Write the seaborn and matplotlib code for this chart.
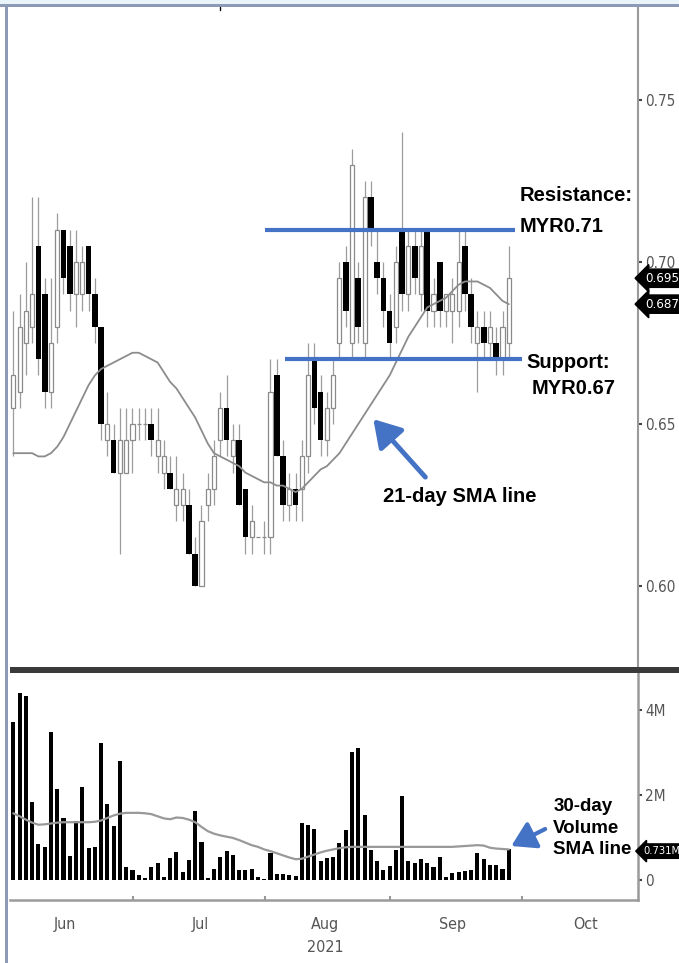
import numpy as np
import pandas as pd
import matplotlib
matplotlib.use('Agg')
import matplotlib.pyplot as plt
import seaborn as sns
from matplotlib.patches import Rectangle
from matplotlib.lines import Line2D

# ---- data ----
opens = [0.655, 0.66, 0.675, 0.68, 0.705, 0.69, 0.66, 0.68, 0.71, 0.705,
         0.69, 0.69, 0.705, 0.69, 0.68, 0.645, 0.645, 0.635, 0.635, 0.645,
         0.65, 0.65, 0.65, 0.64, 0.635, 0.635, 0.625, 0.625, 0.625, 0.61,
         0.60, 0.625, 0.63, 0.645, 0.655, 0.64, 0.645, 0.63, 0.615, 0.615,
         0.615, 0.615, 0.665, 0.64, 0.625, 0.63, 0.63, 0.64, 0.67, 0.66,
         0.645, 0.655, 0.675, 0.70, 0.675, 0.695, 0.675, 0.72, 0.70, 0.695,
         0.685, 0.68, 0.71, 0.69, 0.705, 0.69, 0.71, 0.685, 0.70, 0.685,
         0.685, 0.685, 0.705, 0.69, 0.675, 0.68, 0.675, 0.675, 0.67, 0.675]
highs = [0.685, 0.69, 0.70, 0.72, 0.72, 0.695, 0.695, 0.715, 0.71, 0.71,
         0.71, 0.705, 0.705, 0.695, 0.68, 0.66, 0.65, 0.655, 0.655, 0.655,
         0.655, 0.655, 0.655, 0.655, 0.645, 0.64, 0.64, 0.635, 0.63, 0.615,
         0.625, 0.635, 0.645, 0.66, 0.665, 0.65, 0.65, 0.63, 0.625, 0.615,
         0.62, 0.67, 0.67, 0.645, 0.635, 0.635, 0.645, 0.675, 0.675, 0.665,
         0.66, 0.67, 0.70, 0.705, 0.735, 0.70, 0.725, 0.725, 0.71, 0.70,
         0.69, 0.705, 0.74, 0.71, 0.71, 0.71, 0.71, 0.695, 0.70, 0.69,
         0.695, 0.71, 0.71, 0.695, 0.685, 0.685, 0.685, 0.68, 0.685, 0.705]
lows = [0.64, 0.655, 0.665, 0.675, 0.665, 0.655, 0.655, 0.675, 0.69, 0.685,
        0.68, 0.685, 0.685, 0.675, 0.645, 0.64, 0.635, 0.61, 0.635, 0.635,
        0.645, 0.645, 0.64, 0.635, 0.63, 0.63, 0.62, 0.62, 0.61, 0.60,
        0.60, 0.62, 0.625, 0.64, 0.64, 0.635, 0.625, 0.61, 0.61, 0.615,
        0.61, 0.61, 0.64, 0.62, 0.62, 0.62, 0.62, 0.635, 0.65, 0.64,
        0.64, 0.65, 0.67, 0.68, 0.67, 0.675, 0.67, 0.705, 0.69, 0.68,
        0.67, 0.675, 0.685, 0.685, 0.69, 0.685, 0.68, 0.68, 0.68, 0.68,
        0.675, 0.68, 0.685, 0.675, 0.66, 0.67, 0.67, 0.665, 0.665, 0.67]
closes = [0.665, 0.68, 0.685, 0.69, 0.67, 0.66, 0.675, 0.71, 0.695, 0.69,
          0.70, 0.70, 0.69, 0.68, 0.65, 0.65, 0.635, 0.645, 0.645, 0.65,
          0.65, 0.65, 0.645, 0.645, 0.64, 0.63, 0.63, 0.63, 0.61, 0.60,
          0.62, 0.63, 0.64, 0.655, 0.645, 0.645, 0.625, 0.615, 0.62, 0.615,
          0.615, 0.66, 0.64, 0.625, 0.63, 0.625, 0.64, 0.665, 0.655, 0.645,
          0.655, 0.665, 0.695, 0.685, 0.73, 0.68, 0.72, 0.71, 0.695, 0.685,
          0.675, 0.70, 0.69, 0.705, 0.695, 0.705, 0.685, 0.69, 0.685, 0.69,
          0.69, 0.70, 0.69, 0.68, 0.68, 0.675, 0.68, 0.67, 0.68, 0.695]
sma21 = [0.641, 0.641, 0.641, 0.641, 0.640, 0.640, 0.641, 0.643, 0.646, 0.650,
         0.654, 0.658, 0.662, 0.665, 0.667, 0.668, 0.669, 0.670, 0.671, 0.672,
         0.672, 0.671, 0.670, 0.669, 0.666, 0.663, 0.661, 0.658, 0.655, 0.652,
         0.648, 0.644, 0.641, 0.640, 0.639, 0.638, 0.637, 0.635, 0.634, 0.633,
         0.632, 0.632, 0.631, 0.631, 0.630, 0.629, 0.630, 0.632, 0.634, 0.636,
         0.637, 0.639, 0.641, 0.644, 0.647, 0.650, 0.653, 0.656, 0.659, 0.662,
         0.665, 0.669, 0.673, 0.677, 0.680, 0.683, 0.686, 0.687, 0.688, 0.689,
         0.691, 0.693, 0.694, 0.694, 0.694, 0.693, 0.692, 0.690, 0.688, 0.687]
# volume in millions
volume = [3.72, 4.39, 4.33, 1.84, 0.85, 0.78, 3.49, 2.14, 1.47, 0.56,
          1.39, 2.18, 0.76, 0.78, 3.23, 1.80, 1.27, 2.81, 0.30, 0.24,
          0.12, 0.05, 0.30, 0.41, 0.07, 0.51, 0.67, 0.18, 0.47, 1.63,
          0.90, 0.05, 0.27, 0.55, 0.69, 0.59, 0.24, 0.24, 0.27, 0.07,
          0.03, 0.63, 0.14, 0.14, 0.12, 0.10, 1.33, 1.29, 1.21, 0.45,
          0.51, 0.55, 0.88, 1.18, 3.02, 3.10, 1.53, 0.71, 0.45, 0.24,
          0.33, 0.71, 1.98, 0.45, 0.39, 0.49, 0.40, 0.31, 0.55, 0.08,
          0.17, 0.19, 0.21, 0.24, 0.64, 0.49, 0.35, 0.36, 0.27, 0.72]
vol_sma30 = [1.57, 1.50, 1.42, 1.35, 1.30, 1.31, 1.33, 1.35, 1.36, 1.36,
             1.36, 1.36, 1.36, 1.37, 1.40, 1.46, 1.52, 1.56, 1.58, 1.58,
             1.58, 1.57, 1.55, 1.50, 1.45, 1.43, 1.47, 1.46, 1.42, 1.36,
             1.25, 1.15, 1.09, 1.05, 1.02, 0.99, 0.94, 0.88, 0.82, 0.78,
             0.72, 0.68, 0.63, 0.58, 0.53, 0.49, 0.50, 0.55, 0.60, 0.65,
             0.69, 0.72, 0.75, 0.77, 0.78, 0.78, 0.78, 0.78, 0.78, 0.78,
             0.78, 0.78, 0.78, 0.78, 0.78, 0.78, 0.78, 0.78, 0.78, 0.78,
             0.78, 0.79, 0.80, 0.81, 0.82, 0.81, 0.76, 0.74, 0.73, 0.72]

month_labels = ['Jun', 'Jul', 'Aug', 'Sep', 'Oct']
month_pos = [8.25, 29.8, 49.7, 70.1, 91.2]
mid_month_pos = [19.1, 40.1, 60.1, 81.1]
price_ticks = [0.60, 0.65, 0.70, 0.75]
vol_ticks = [0, 2, 4]
vol_tick_labels = ['0', '2M', '4M']
resistance = 0.71
support = 0.67
last_close = 0.695
last_sma = 0.687
last_vol_sma = '0.731M'

df = pd.DataFrame({'day': np.arange(len(opens)), 'open': opens, 'high': highs,
                   'low': lows, 'close': closes, 'sma21': sma21,
                   'volume': volume, 'vol_sma': vol_sma30})

sns.set_style('white')
plt.rcParams['font.family'] = ['Liberation Sans', 'DejaVu Sans']
# bloomberg-style narrow axis font
axfont = dict(family='DejaVu Sans', stretch='condensed')
BLUE = '#4472C4'
W, H = 679, 963

fig = plt.figure(figsize=(W / 100, H / 100), dpi=100)
ax1 = fig.add_axes([10 / W, 295 / H, 628 / W, 660 / H])
ax2 = fig.add_axes([10 / W, 63 / H, 628 / W, 227 / H])

# frame of the screenshot
fig.add_artist(Rectangle((0, 1 - 4 / H), 1, 4 / H, transform=fig.transFigure, color='#e8f4fa', lw=0))
fig.add_artist(Rectangle((0, 1 - 7.5 / H), 1, 3.5 / H, transform=fig.transFigure, color='#8c9ab5', lw=0))
fig.add_artist(Rectangle((4.5 / W, 0), 3 / W, 1 - 4 / H, transform=fig.transFigure, color='#8c9ab5', lw=0))
fig.add_artist(Line2D([220 / W, 220 / W], [1 - 7.5 / H, 1 - 10.5 / H], transform=fig.transFigure, color='black', lw=1))
# panel separator
fig.add_artist(Rectangle((10 / W, 1 - 673 / H), 669 / W, 6 / H, transform=fig.transFigure, color='#3a3a3a', lw=0))

# ---- candles ----
up = df[df['close'] >= df['open']]
down = df[df['close'] < df['open']]
ax1.vlines(df['day'], df['low'], df['high'], color='#9c9c9c', lw=0.9, zorder=1)
ax1.bar(up['day'], up['close'] - up['open'], bottom=up['open'], width=0.65,
        color='white', edgecolor='#8a8a8a', linewidth=0.9, zorder=2)
ax1.bar(down['day'], down['open'] - down['close'], bottom=down['close'], width=0.9,
        color='black', linewidth=0, zorder=3)
sns.lineplot(data=df, x='day', y='sma21', ax=ax1, color='#8c8c8c', lw=1.3, zorder=4)

ax1.set_xlim(-0.53, 99.6)
ax1.set_ylim(0.5747, 0.7784)

# support / resistance
ax1.hlines(resistance, 40.1, 80.0, color=BLUE, lw=3, zorder=6)
ax1.hlines(support, 43.3, 81.1, color=BLUE, lw=3, zorder=6)
tkw = dict(fontsize=14.5, fontweight='bold', color='black', va='center', ha='left', zorder=7)
ax1.text(80.7, 0.7204, 'Resistance:', **tkw)
ax1.text(80.7, 0.7111, 'MYR0.71', **tkw)
ax1.text(81.8, 0.6691, 'Support:', **tkw)
ax1.text(82.6, 0.6611, 'MYR0.67', **tkw)
ax1.text(58.9, 0.6275, '21-day SMA line', **tkw)
ax1.annotate('', xy=(57.4, 0.6515), xytext=(65.7, 0.6336),
             arrowprops=dict(arrowstyle='-|>,head_length=0.9,head_width=0.55', color=BLUE,
                             lw=3.5, shrinkA=0, shrinkB=0, mutation_scale=18), zorder=7)

# right axis
ax1.yaxis.tick_right()
ax1.set_yticks(price_ticks)
ax1.set_yticklabels([f'{t:.2f}' for t in price_ticks], **axfont)
ax1.tick_params(axis='y', right=True, left=False, length=3, width=1.5, color='#444',
                labelsize=11, labelcolor='#555', pad=2)
ax1.set_xticks([])
ax1.set_xlabel('')
ax1.set_ylabel('')
for s in ['left', 'top', 'bottom']:
    ax1.spines[s].set_visible(False)
ax1.spines['right'].set_color('#9a9a9a')
ax1.spines['right'].set_linewidth(1.5)

bkw = dict(xycoords=('axes fraction', 'data'), textcoords='offset points', ha='left', va='center',
           color='white', zorder=8, annotation_clip=False,
           bbox=dict(boxstyle='larrow,pad=0.2', fc='black', ec='black'), **axfont)
ax1.annotate(f'{last_close:.3f}', xy=(1, last_close), xytext=(5, 0), fontsize=9.5, **bkw)
ax1.annotate(f'{last_sma:.3f}', xy=(1, last_sma), xytext=(5, 0), fontsize=9.5, **bkw)

# ---- volume ----
sns.barplot(data=df, x='day', y='volume', native_scale=True, ax=ax2, color='black',
            saturation=1, width=0.65, errorbar=None, linewidth=0, zorder=2)
sns.lineplot(data=df, x='day', y='vol_sma', ax=ax2, color='#999999', lw=1.6, zorder=3)
ax2.set_xlim(-0.53, 99.6)
ax2.set_ylim(-0.47, 4.87)

ax2.yaxis.tick_right()
ax2.set_yticks(vol_ticks)
ax2.set_yticklabels(vol_tick_labels, **axfont)
ax2.tick_params(axis='y', right=True, left=False, length=3, width=1.5, color='#444',
                labelsize=11, labelcolor='#555', pad=2)
ax2.set_xticks(month_pos)
ax2.set_xticklabels(month_labels, **axfont)
ax2.set_xticks(mid_month_pos, minor=True)
ax2.tick_params(axis='x', which='major', length=0, labelsize=11.5, labelcolor='#555', pad=12)
ax2.tick_params(axis='x', which='minor', bottom=True, length=3, width=1.5, color='#999', direction='in')
ax2.set_xlabel('')
ax2.set_ylabel('')
for s in ['left', 'top']:
    ax2.spines[s].set_visible(False)
for s in ['right', 'bottom']:
    ax2.spines[s].set_color('#9a9a9a')
    ax2.spines[s].set_linewidth(1.8)
ax2.annotate('2021', xy=(month_pos[2], 0), xycoords=('data', 'axes fraction'),
             xytext=(0, -29), textcoords='offset points', ha='center', va='top',
             fontsize=11.5, color='#555', annotation_clip=False, **axfont)
ax2.annotate(last_vol_sma, xy=(1, 0.68), xytext=(4, 0), fontsize=8, **bkw)

vkw = dict(fontsize=13.5, fontweight='bold', color='black', va='center', ha='left', zorder=7)
ax2.text(86.1, 1.74, '30-day', **vkw)
ax2.text(86.1, 1.22, 'Volume', **vkw)
ax2.text(86.1, 0.71, 'SMA line', **vkw)
ax2.annotate('', xy=(79.4, 0.80), xytext=(84.8, 1.20),
             arrowprops=dict(arrowstyle='-|>,head_length=0.9,head_width=0.55', color=BLUE,
                             lw=3, shrinkA=0, shrinkB=0, mutation_scale=16), zorder=7)

fig.savefig('out.png', dpi=100)
